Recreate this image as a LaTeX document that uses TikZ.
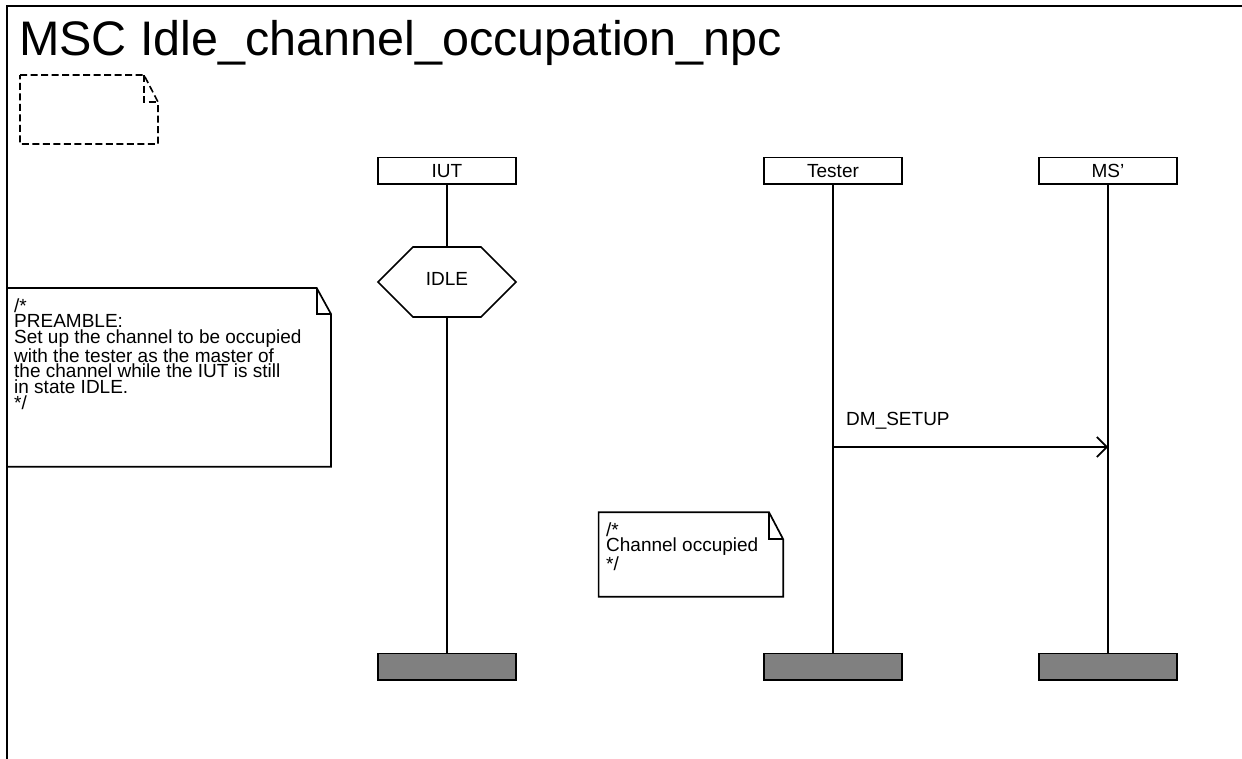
\documentclass[tikz,border=0pt]{standalone}
\usepackage{fontspec}
\setmainfont{Liberation Sans}
\usetikzlibrary{arrows.meta}
\definecolor{endgrey}{RGB}{128,128,128}
\begin{document}
\begin{tikzpicture}[x=1pt,y=-1pt,
  ln/.style={line width=1.7pt},
  inst/.style={draw, line width=1.8pt, minimum width=138pt, minimum height=26.5pt, inner sep=0pt, font=\fontsize{19}{19}\selectfont},
  instend/.style={draw, line width=1.8pt, fill=endgrey, minimum width=138pt, minimum height=26.5pt, inner sep=0pt},
  txt/.style={inner sep=0pt, anchor=base west, font=\fontsize{19}{15.7}\selectfont},
  notebox/.style={draw, line width=1.7pt, fill=white, line join=miter},
  dashnote/.style={draw, line width=1.6pt, dash pattern=on 7pt off 3.5pt},
  msg/.style={line width=1.7pt, -{Straight Barb[length=10pt,width=20pt,line width=1.7pt]}}
]
\fill[white] (0,0) rectangle (1242,758);
\useasboundingbox (0,0) rectangle (1242,758);

% title
\node[anchor=base west, inner sep=0pt, font=\fontsize{48.5}{50}\selectfont] (title) at (19,55) {MSC Idle\_channel\_occupation\_npc};

% dashed empty note
\draw[dashnote] (20,75) -- (144,75) -- (158,102) -- (158,144) -- (20,144) -- cycle;
\draw[dashnote] (144,75) -- (144,102) -- (158,102);

% preamble comment
\draw[notebox] (7,288) -- (316.7,288) -- (331,314) -- (331,466.7) -- (7,466.7) -- cycle;
\draw[ln] (316.7,288) -- (316.7,314) -- (331,314);
\node[txt] (pre) at (14,312) {\parbox[t]{310pt}{/*\\PREAMBLE:\\Set up the channel to be occupied\\with the tester as the master of\\the channel while the IUT is still\\in state IDLE.\\{}*/}};

% frame
\begin{scope}
\clip (0,0) rectangle (1242,758);
\draw[line width=2pt] (7,780) -- (7,6) -- (1260,6);
\end{scope}

% instances
\node[inst] (iut) at (447,170.75) {IUT};
\node[inst] (tester) at (833,170.75) {Tester};
\node[inst] (ms) at (1108,170.75) {MS'};
\node[instend] (iutend) at (447,666.75) {};
\node[instend] (testerend) at (833,666.75) {};
\node[instend] (msend) at (1108,666.75) {};

% IDLE condition
\draw[ln] (378,282) -- (413,247) -- (481,247) -- (516,282) -- (481,317) -- (413,317) -- cycle;
\coordinate (idletop) at (447,247);
\coordinate (idlebot) at (447,317);
\node[anchor=base, inner sep=0pt, font=\fontsize{19}{19}\selectfont] (idle) at (447,285) {IDLE};

% lifelines
\draw[ln] (iut.south) -- (idletop);
\draw[ln] (idlebot) -- (iutend.north);
\draw[ln] (tester.south) -- (testerend.north);
\draw[ln] (ms.south) -- (msend.north);

% message
\coordinate (m1) at (833,447);
\coordinate (m2) at (1108,447);
\draw[msg] (m1) -- (m2);
\node[txt] (dm) at (846,425) {DM\_SETUP};

% channel occupied comment
\draw[notebox] (598.6,512.3) -- (769,512.3) -- (783.2,539.3) -- (783.2,596.7) -- (598.6,596.7) -- cycle;
\draw[ln] (769,512.3) -- (769,539.3) -- (783.2,539.3);
\node[txt] (occ) at (606,536) {\parbox[t]{170pt}{/*\\Channel occupied\\{}*/}};
\end{tikzpicture}
\end{document}
